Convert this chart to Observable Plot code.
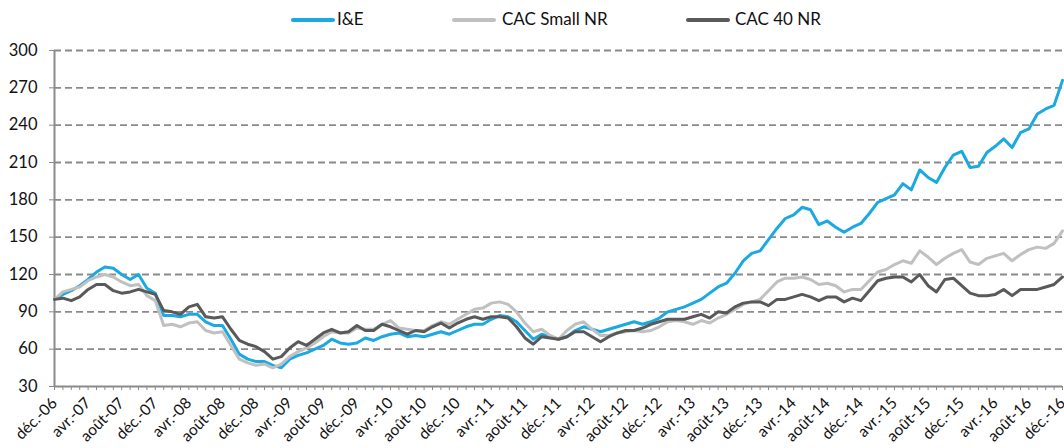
<!DOCTYPE html>
<html><head><meta charset="utf-8">
<script src="https://cdn.jsdelivr.net/npm/d3@7"></script>
<script src="https://cdn.jsdelivr.net/npm/@observablehq/plot@0.6"></script>
<style>
body{margin:0;background:#fff;font-family:Lato,"Noto Sans",sans-serif;}
#legend{position:relative;width:1064px;height:40px;}
.sw{position:absolute;top:18px;height:4px;border-radius:2px;width:44px;}
.lt{position:absolute;top:9px;font-size:17px;color:#111;line-height:20px;}
</style></head><body>
<div id="legend"></div>
<div id="chart"></div>
<script>
const tickLabels = ["déc.-06","avr.-07","août-07","déc.-07","avr.-08","août-08","déc.-08","avr.-09","août-09","déc.-09","avr.-10","août-10","déc.-10","avr.-11","août-11","déc.-11","avr.-12","août-12","déc.-12","avr.-13","août-13","déc.-13","avr.-14","août-14","déc.-14","avr.-15","août-15","déc.-15","avr.-16","août-16","déc.-16"];
const yTicks = [30,60,90,120,150,180,210,240,270,300];
const seriesNames = ["I&E","CAC Small NR","CAC 40 NR"];
const seriesColors = ["#1aa9e1","#c0c0c0","#595959"];

const ieValues = [100,104,107,111,116,122,126,125,120,116,120,109,105,87,87,86,88,88,82,79,79,
68,56,52,50,50,47,45,52,55,57,60,63,68,65,64,65,69,67,70,72,
73,70,71,70,72,74,72,75,78,80,80,84,87,86,82,75,68,72,70,
68,70,75,78,76,74,76,78,80,82,80,82,85,90,92,94,97,100,105,
110,113,121,131,137,139,148,157,165,168,174,172,160,163,158,154,158,161,169,178,
181,184,193,188,204,198,194,206,216,219,206,207,218,223,229,222,234,237,249,253,256,276];

const cacSmallValues = [100,106,108,110,115,118,120,118,114,111,112,103,99,79,80,78,81,82,75,73,74,
63,52,49,47,48,45,48,54,58,61,65,70,74,73,73,77,76,76,80,83,
77,76,75,75,79,82,80,84,88,92,93,97,98,96,90,81,74,76,71,
68,75,80,82,76,71,71,73,74,75,74,75,78,82,83,82,80,83,81,
85,88,92,96,98,100,107,114,117,117,118,116,112,113,111,106,108,108,115,122,
124,128,131,129,139,134,128,133,137,140,130,128,133,135,137,131,136,140,142,141,145,155];

const cac40Values = [100,101,99,102,108,112,112,107,105,106,108,106,104,91,90,88,94,96,86,85,86,
76,67,64,62,58,52,54,61,66,63,68,73,76,73,74,79,75,75,80,78,
75,72,75,74,78,81,77,81,84,86,84,86,86,85,78,69,64,70,69,
68,70,74,74,70,66,70,73,75,75,77,80,82,84,84,84,86,88,85,
90,89,94,97,98,98,95,100,100,102,104,102,99,102,102,98,101,99,107,115,
117,118,118,114,120,111,106,116,117,111,105,103,103,104,108,103,108,108,108,110,112,118];

const allValues = [ieValues, cacSmallValues, cac40Values];
const data = [];
seriesNames.forEach((name, s) => allValues[s].forEach((v, i) => data.push({i, v, name})));

// legend
const legendPos = [{sw:291, tx:337}, {sw:452, tx:502}, {sw:686, tx:735}];
const lg = document.getElementById("legend");
seriesNames.forEach((n, k) => {
  const sw = document.createElement("div"); sw.className = "sw";
  sw.style.left = legendPos[k].sw + "px"; sw.style.background = seriesColors[k];
  const t = document.createElement("div"); t.className = "lt";
  t.style.left = legendPos[k].tx + "px"; t.textContent = n;
  lg.appendChild(sw); lg.appendChild(t);
});

const nMonths = ieValues.length;
const chart = Plot.plot({
  width: 1064, height: 408,
  marginTop: 10, marginBottom: 62, marginLeft: 54, marginRight: 2,
  style: {fontFamily: "Lato, 'Noto Sans', sans-serif", background: "#fff"},
  x: {type: "linear", domain: [0, nMonths - 1]},
  y: {domain: [30, 300]},
  color: {domain: seriesNames, range: seriesColors},
  marks: [
    Plot.gridY(yTicks.slice(1), {stroke: "#8a8a8a", strokeOpacity: 1, strokeWidth: 1.8, strokeDasharray: "7,4"}),
    Plot.axisY(yTicks, {tickSize: 5, tickPadding: 12, stroke: "#8a8a8a", fill: "#111", fontSize: 16.5, label: null}),
    Plot.axisX(d3.range(0, nMonths), {tickSize: 4, tickFormat: () => "", stroke: "#8a8a8a", label: null}),
    Plot.axisX(d3.range(0, nMonths, 4), {tickSize: 0, tickPadding: 14, tickRotate: -45, fill: "#111", fontSize: 15.5, label: null, tickFormat: d => tickLabels[d / 4]}),
    Plot.ruleY([30], {stroke: "#8a8a8a", strokeWidth: 2}),
    Plot.ruleX([0], {stroke: "#8a8a8a", strokeWidth: 2}),
    Plot.line(data, {x: "i", y: "v", z: "name", stroke: "name", strokeWidth: 3, strokeLinejoin: "round"})
  ]
});
document.getElementById("chart").appendChild(chart);
</script>
</body></html>
